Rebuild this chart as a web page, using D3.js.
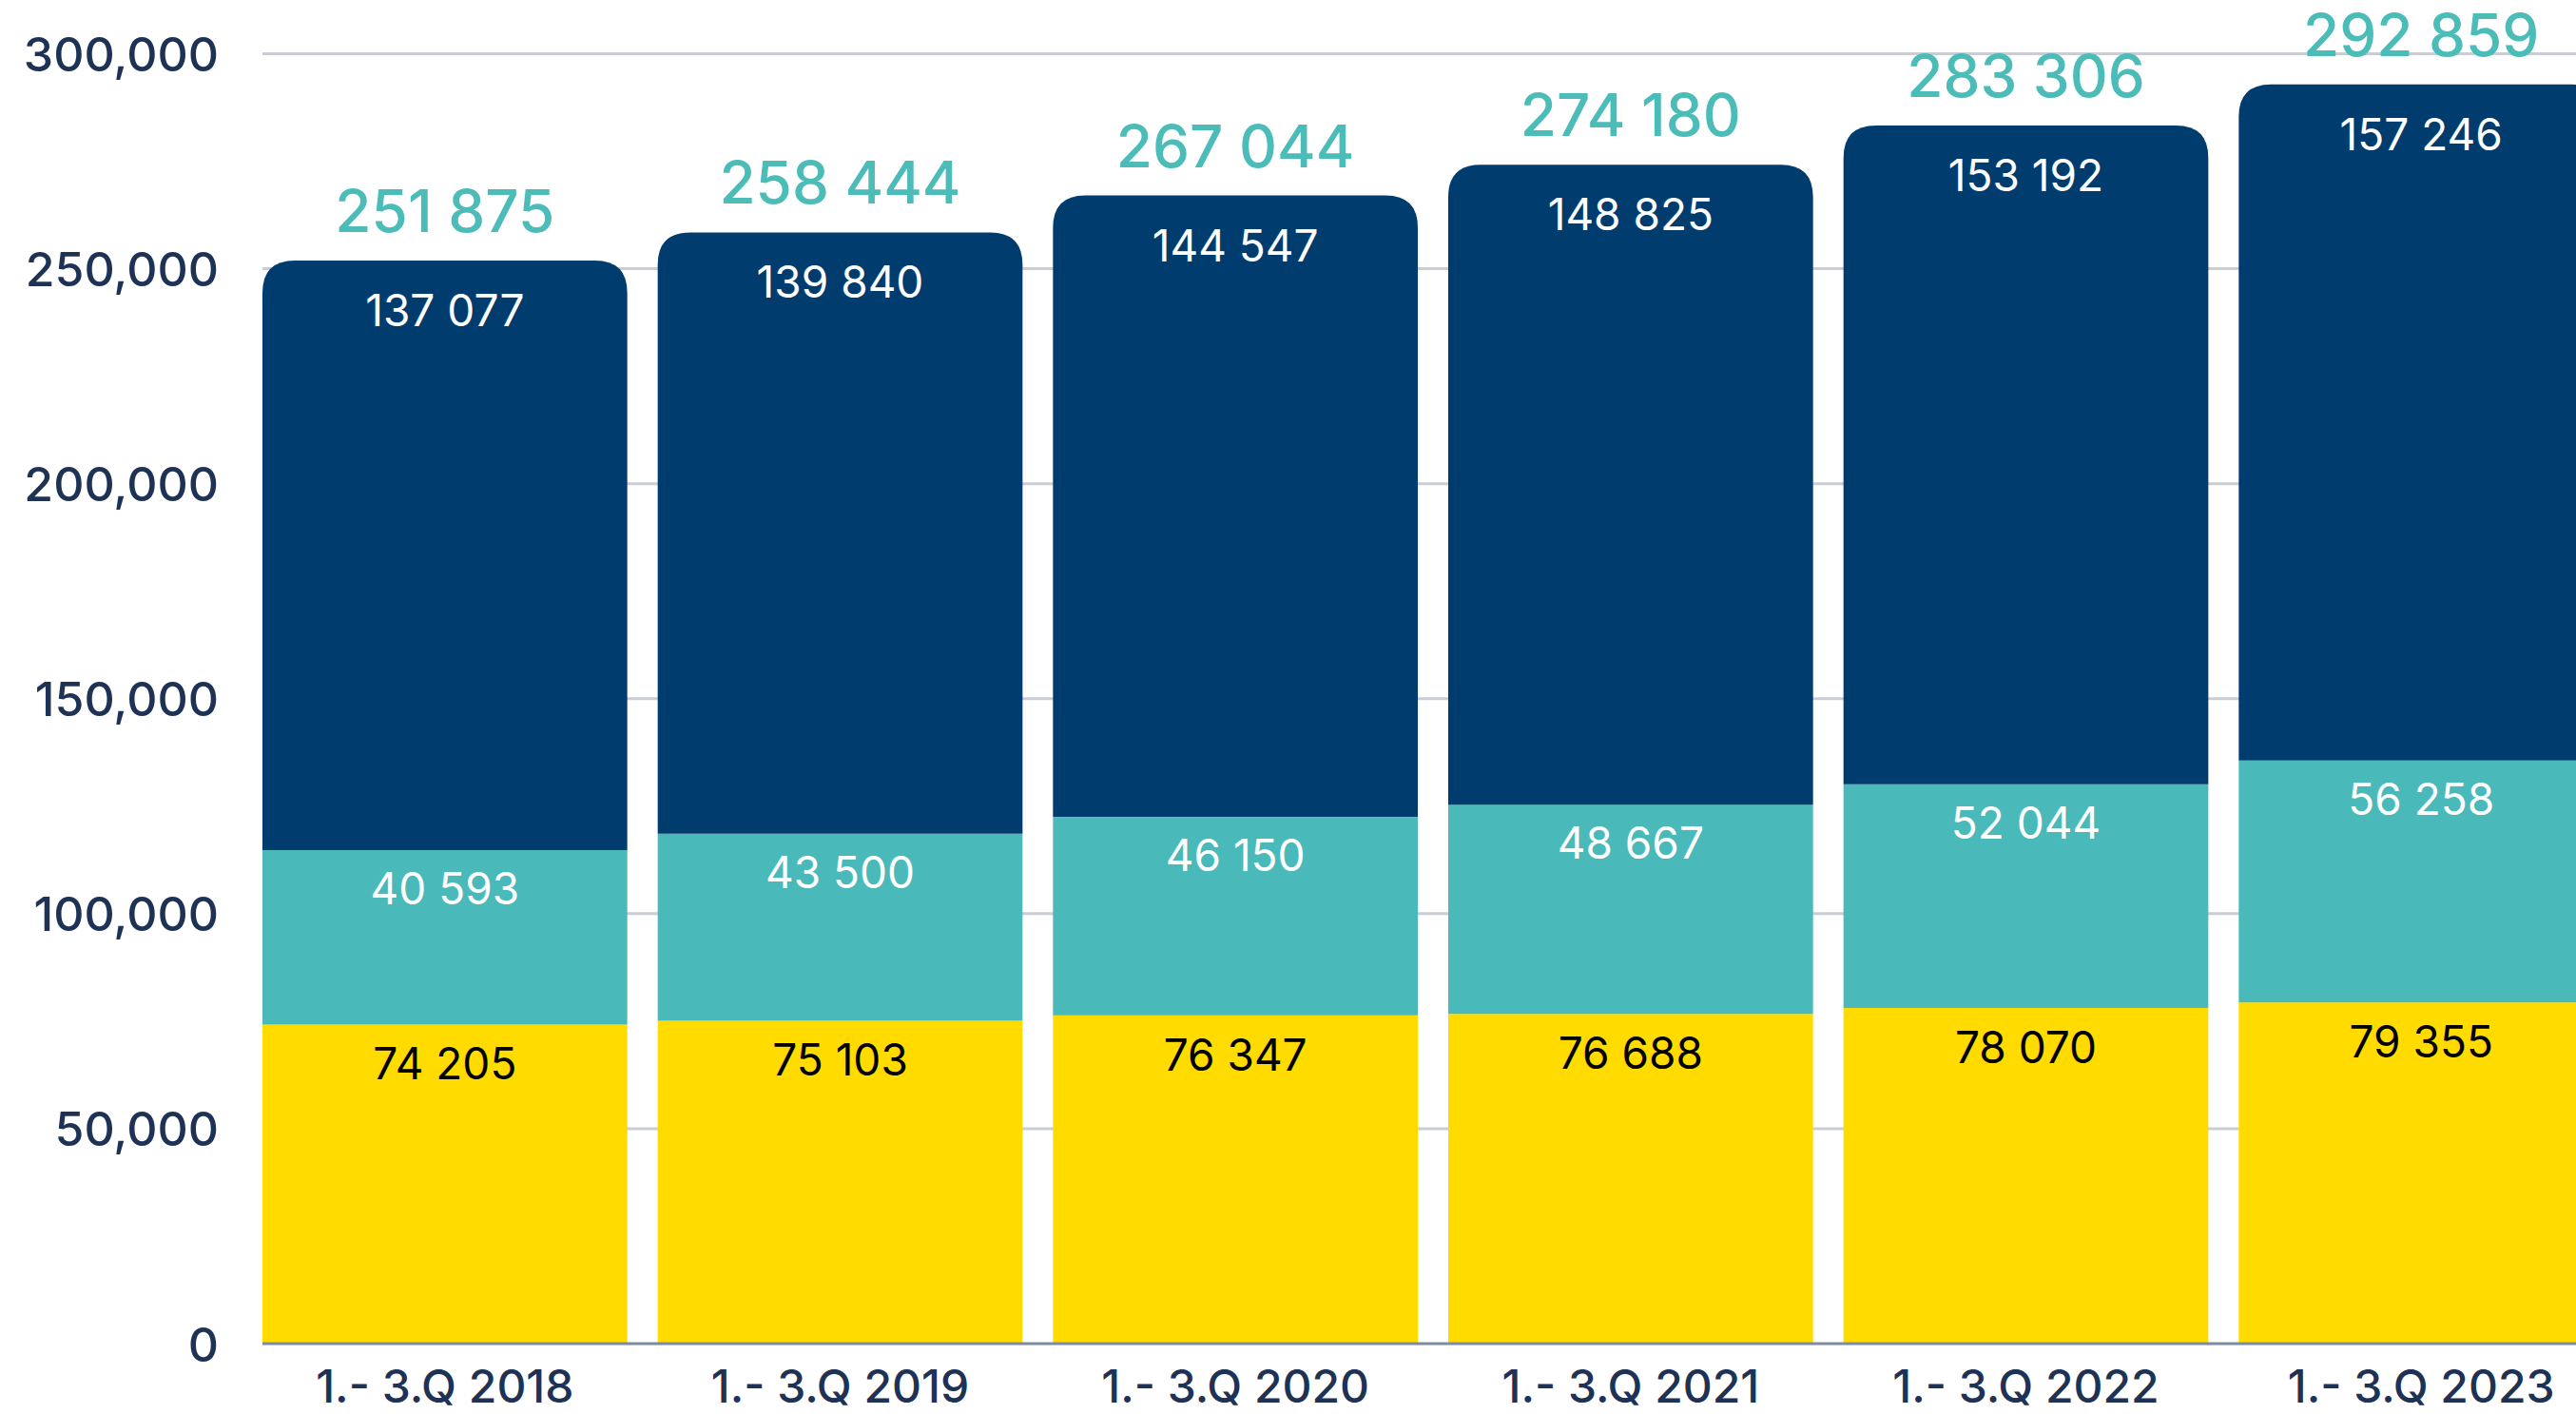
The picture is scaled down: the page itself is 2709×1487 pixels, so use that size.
<!DOCTYPE html>
<html>
<head>
<meta charset="utf-8">
<script src="https://cdn.jsdelivr.net/npm/d3@7"></script>
<style>
  body { margin: 0; background: #fff; }
  text { font-family: Inter, "Noto Sans", sans-serif; }
</style>
</head>
<body>
<div id="chart"></div>
<script>
var svgWidth = 2709;
var svgHeight = 1487;

// data
var periods = ["1.- 3.Q 2018", "1.- 3.Q 2019", "1.- 3.Q 2020", "1.- 3.Q 2021", "1.- 3.Q 2022", "1.- 3.Q 2023"];
var yellowValues = [74205, 75103, 76347, 76688, 78070, 79355];
var tealValues = [40593, 43500, 46150, 48667, 52044, 56258];
var navyValues = [137077, 139840, 144547, 148825, 153192, 157246];
// totals as printed above the bars
var totalValues = [251875, 258444, 267044, 274180, 283306, 292859];
var yTicks = [0, 50000, 100000, 150000, 200000, 250000, 300000];

var colors = { yellow: "#ffdb00", teal: "#49b9ba", navy: "#003c6e" };

var plotLeft = 276;
var plotTop = 56.5;
var plotBottom = 1413;

var svg = d3.select("#chart")
  .append("svg")
  .attr("width", svgWidth)
  .attr("height", svgHeight);

var xScale = d3.scaleBand()
  .domain(periods)
  .range([plotLeft, plotLeft + 2462])
  .paddingInner(0.077)
  .paddingOuter(0);

var yScale = d3.scaleLinear()
  .domain([0, 300000])
  .range([plotBottom, plotTop]);

var spaceFmt = d3.formatLocale({ decimal: ".", thousands: " ", grouping: [3], currency: ["", ""] }).format(",d");

// build stacked rows
var rows = periods.map(function(p, i) {
  return { period: p, yellow: yellowValues[i], teal: tealValues[i], navy: navyValues[i], total: totalValues[i] };
});
var stack = d3.stack().keys(["yellow", "teal", "navy"]);
var series = stack(rows);

// gridlines
svg.append("g")
  .selectAll("line")
  .data(yTicks.filter(d => d > 0))
  .enter()
  .append("line")
  .attr("x1", plotLeft)
  .attr("x2", svgWidth)
  .attr("y1", d => yScale(d))
  .attr("y2", d => yScale(d))
  .attr("stroke", "#c9cdd7")
  .attr("stroke-width", 3);

// y axis labels
var yAxis = d3.axisLeft(yScale)
  .tickValues(yTicks)
  .tickFormat(d3.format(","))
  .tickSize(0)
  .tickPadding(0);

var yAxisG = svg.append("g")
  .attr("transform", "translate(230,0)")
  .call(yAxis);
yAxisG.select(".domain").remove();
yAxisG.selectAll("text")
  .attr("font-size", 50)
  .attr("font-weight", 500)
  .attr("font-family", "Inter, 'Noto Sans', sans-serif")
  .attr("fill", "#1d3254")
  .attr("dy", "0.36em");

// path with rounded top corners
function roundedTop(x, y, w, h, r) {
  return "M" + x + "," + (y + h) +
    "V" + (y + r) +
    "Q" + x + "," + y + " " + (x + r) + "," + y +
    "H" + (x + w - r) +
    "Q" + (x + w) + "," + y + " " + (x + w) + "," + (y + r) +
    "V" + (y + h) + "Z";
}

var barsG = svg.append("g");
series.forEach(function(s) {
  var layer = barsG.append("g").attr("fill", colors[s.key]);
  if (s.key === "navy") {
    layer.selectAll("path")
      .data(s)
      .enter()
      .append("path")
      .attr("d", d => roundedTop(xScale(d.data.period), yScale(d[1]), xScale.bandwidth(), yScale(d[0]) - yScale(d[1]), 34));
  } else {
    layer.selectAll("rect")
      .data(s)
      .enter()
      .append("rect")
      .attr("x", d => xScale(d.data.period))
      .attr("y", d => yScale(d[1]))
      .attr("width", xScale.bandwidth())
      .attr("height", d => yScale(d[0]) - yScale(d[1]));
  }
});

// baseline
svg.append("line")
  .attr("x1", plotLeft)
  .attr("x2", svgWidth)
  .attr("y1", plotBottom)
  .attr("y2", plotBottom)
  .attr("stroke", "#7f8aa1")
  .attr("stroke-width", 3);

// segment labels
var labelStyle = {
  yellow: { fill: "#000", offset: 58 },
  teal: { fill: "#fff", offset: 57 },
  navy: { fill: "#fff", offset: 69 }
};
series.forEach(function(s) {
  svg.append("g")
    .selectAll("text")
    .data(s)
    .enter()
    .append("text")
    .attr("x", d => xScale(d.data.period) + xScale.bandwidth() / 2)
    .attr("y", d => yScale(d[1]) + labelStyle[s.key].offset)
    .attr("text-anchor", "middle")
    .attr("font-size", 46)
    .attr("fill", labelStyle[s.key].fill)
    .text(d => spaceFmt(d[1] - d[0]));
});

// totals
svg.append("g")
  .selectAll("text")
  .data(rows)
  .enter()
  .append("text")
  .attr("x", d => xScale(d.period) + xScale.bandwidth() / 2)
  .attr("y", d => yScale(d.yellow + d.teal + d.navy) - 30)
  .attr("text-anchor", "middle")
  .attr("font-size", 62)
  .attr("font-weight", 500)
  .attr("fill", "#4bbcb8")
  .text(d => spaceFmt(d.total));

// x axis labels
var xAxis = d3.axisBottom(xScale).tickSize(0).tickPadding(0);
var xAxisG = svg.append("g")
  .attr("transform", "translate(0," + (plotBottom + 62) + ")")
  .call(xAxis);
xAxisG.select(".domain").remove();
xAxisG.selectAll("text")
  .attr("font-size", 48)
  .attr("font-weight", 500)
  .attr("font-family", "Inter, 'Noto Sans', sans-serif")
  .attr("fill", "#1d3254")
  .attr("dy", 0);
</script>
</body>
</html>
